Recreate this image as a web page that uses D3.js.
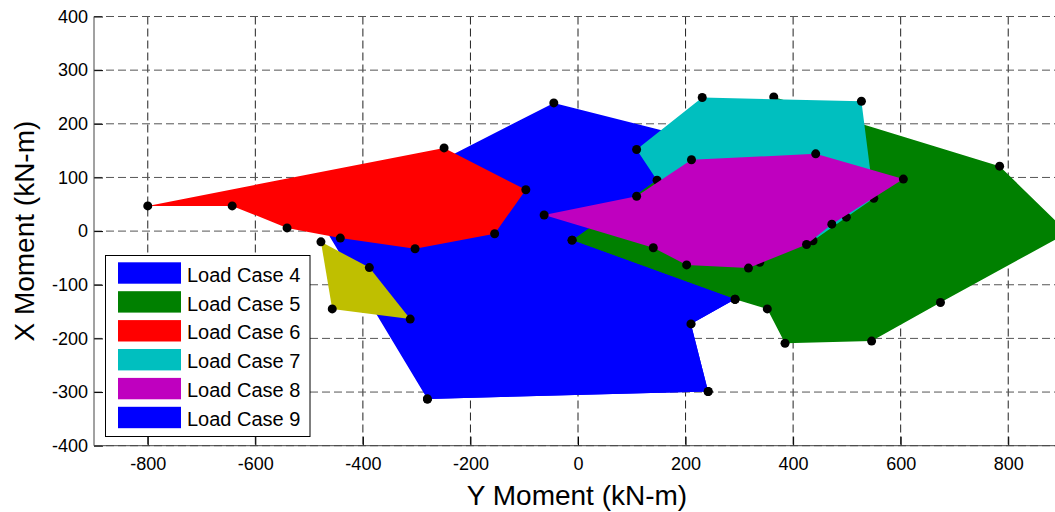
<!DOCTYPE html>
<html lang="en">
<head>
    <script src="https://d3js.org/d3.v7.min.js"></script>
    <style>
        body {
            margin: 0;
            background: #fff;
            font-family: 'Liberation Sans', Arial, sans-serif;
        }
        .axis text {
            font-size: 18px;
            fill: #000;
        }
        .axis line {
            stroke: #000;
        }
        .grid-x line {
            stroke: #222;
            stroke-dasharray: 8, 4;
        }
        .grid-y line {
            stroke: #555;
            stroke-dasharray: 8, 4;
        }
        .axis-label {
            font-size: 28px;
            text-anchor: middle;
        }
        .legend text {
            font-size: 20px;
        }
    </style>
</head>
<body>
<script>
    // legend entries
    var caseNames = ["Load Case 4", "Load Case 5", "Load Case 6", "Load Case 7", "Load Case 8", "Load Case 9"];
    var caseColors = ["#0000ff", "#008000", "#ff0000", "#00bfbf", "#bf00bf", "#0000ff"];

    // moment envelopes, [Y moment, X moment] in kN-m
    var loadCase4 = [[-478, 17], [-45, 239], [227, 170], [292, -127], [210, -173], [242, -299], [-280, -313]];
    var loadCase5 = [[-11, -17], [364, 250], [784, 121], [911, -3], [674, -133], [546, -205], [385, -209], [352, -145], [292, -127]];
    var loadCase6 = [[-800, 47], [-249, 155], [-97, 77], [-155, -5], [-303, -33], [-442, -13], [-541, 6], [-643, 47]];
    var loadCase7 = [[109, 152], [231, 249], [527, 242], [550, 61], [499, 26], [437, -18], [338, -58], [147, 95]];
    var loadCase8 = [[-63, 30], [109, 65], [211, 133], [442, 144], [605, 97], [472, 13], [425, -25], [317, -69], [202, -63], [140, -31]];
    var loadCase9 = [[-11, -17], [292, -127], [210, -173], [242, -299], [-280, -313]];
    // extra case, not in the legend
    var loadCaseX = [[-478, -20], [-388, -68], [-312, -164], [-457, -145]];

    var polygons = [loadCase4, loadCase5, loadCase6, loadCase7, loadCase8, loadCase9, loadCaseX];
    var polyColors = caseColors.concat(["#bfbf00"]);

    var xTicks = [-800, -600, -400, -200, 0, 200, 400, 600, 800];
    var yTicks = [-400, -300, -200, -100, 0, 100, 200, 300, 400];

    var width = 1055;
    var height = 512;

    var svg = d3.select("body").append("svg")
        .attr("width", width)
        .attr("height", height);

    var x = d3.scaleLinear().domain([-900, 900]).range([94, 1062]);
    var y = d3.scaleLinear().domain([-400, 400]).range([445.7, 16.5]);

    svg.append("clipPath")
        .attr("id", "plot-clip")
        .append("rect")
        .attr("x", x(-900))
        .attr("y", y(400))
        .attr("width", x(900) - x(-900))
        .attr("height", y(-400) - y(400));

    // grid
    svg.append("g")
        .attr("class", "grid-x")
        .selectAll("line")
        .data(xTicks)
        .enter().append("line")
        .attr("x1", function(d) { return x(d); })
        .attr("x2", function(d) { return x(d); })
        .attr("y1", y(400))
        .attr("y2", y(-400));

    svg.append("g")
        .attr("class", "grid-y")
        .selectAll("line")
        .data(yTicks)
        .enter().append("line")
        .attr("x1", x(-900))
        .attr("x2", x(900))
        .attr("y1", function(d) { return y(d); })
        .attr("y2", function(d) { return y(d); });

    // polygons with their vertex dots
    var plot = svg.append("g").attr("clip-path", "url(#plot-clip)");
    var line = d3.line()
        .x(function(d) { return x(d[0]); })
        .y(function(d) { return y(d[1]); });

    polygons.forEach(function(pts, i) {
        var g = plot.append("g");
        g.append("path")
            .attr("d", line(pts) + "Z")
            .attr("fill", polyColors[i])
            .attr("stroke", "none");
        g.selectAll("circle")
            .data(pts)
            .enter().append("circle")
            .attr("cx", function(d) { return x(d[0]); })
            .attr("cy", function(d) { return y(d[1]); })
            .attr("r", 4.5)
            .attr("fill", "#000");
    });

    // axes
    svg.append("g")
        .attr("class", "axis")
        .attr("transform", "translate(0," + y(-400) + ")")
        .call(d3.axisBottom(x).tickValues(xTicks).tickSize(-9).tickPadding(12)
            .tickFormat(function(d) { return String(d); }))
        .call(g => g.select(".domain").remove());

    svg.append("g")
        .attr("class", "axis")
        .attr("transform", "translate(" + x(-900) + ",0)")
        .call(d3.axisLeft(y).tickValues(yTicks).tickSize(-9).tickPadding(6)
            .tickFormat(function(d) { return String(d); }))
        .call(g => g.select(".domain").remove());

    svg.append("line")
        .attr("x1", x(-900)).attr("x2", x(-900))
        .attr("y1", y(400)).attr("y2", y(-400))
        .attr("stroke", "#444");
    svg.append("line")
        .attr("x1", x(-900)).attr("x2", x(900))
        .attr("y1", y(-400)).attr("y2", y(-400))
        .attr("stroke", "#444");

    // axis labels
    svg.append("text")
        .attr("class", "axis-label")
        .attr("x", 577)
        .attr("y", 505)
        .text("Y Moment (kN-m)");

    svg.append("text")
        .attr("class", "axis-label")
        .attr("transform", "translate(34," + (y(0)) + ") rotate(-90)")
        .text("X Moment (kN-m)");

    // legend
    var legend = svg.append("g").attr("class", "legend");
    legend.append("rect")
        .attr("x", 105.5)
        .attr("y", 255.5)
        .attr("width", 204.5)
        .attr("height", 181)
        .attr("fill", "#fff")
        .attr("stroke", "#000");

    var rows = legend.selectAll(".row")
        .data(caseNames)
        .enter().append("g")
        .attr("class", "row")
        .attr("transform", function(d, i) { return "translate(0," + (262.3 + i * 28.9) + ")"; });

    rows.append("rect")
        .attr("x", 118)
        .attr("width", 63)
        .attr("height", 21.4)
        .attr("fill", function(d, i) { return caseColors[i]; });

    rows.append("text")
        .attr("x", 187)
        .attr("y", 19.4)
        .text(function(d) { return d; });
</script>
</body>
</html>
